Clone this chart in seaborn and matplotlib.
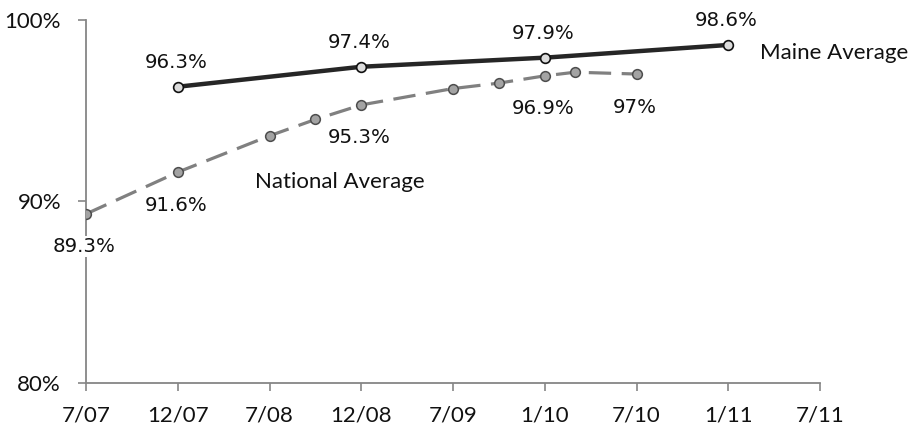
import matplotlib
matplotlib.use("Agg")
import matplotlib.pyplot as plt
import seaborn as sns
import pandas as pd

# Axis periods (evenly spaced on the horizontal axis)
tick_labels = ["7/07", "12/07", "7/08", "12/08", "7/09", "1/10", "7/10", "1/11", "7/11"]

# Maine average: period position on the axis and percent
maine_pos = [1, 3, 5, 7]
maine_vals = [96.3, 97.4, 97.9, 98.6]

# National average: period position on the axis and percent
national_pos = [0, 1, 2, 2.5, 3, 4, 4.5, 5, 5.33, 6]
national_vals = [89.3, 91.6, 93.6, 94.5, 95.3, 96.2, 96.5, 96.9, 97.1, 97.0]
national_labelled = [0, 1, 4, 7, 9]

y_ticks = [80, 90, 100]

maine_df = pd.DataFrame({"pos": maine_pos, "pct": maine_vals})
national_df = pd.DataFrame({"pos": national_pos, "pct": national_vals})

sns.set_style("white")
plt.rcParams["font.family"] = ["Lato", "DejaVu Sans"]

fig = plt.figure(figsize=(9.13, 4.32), dpi=100)
ax = fig.add_axes([86 / 913, 1 - 383 / 432, (820 - 86) / 913, (383 - 19.5) / 432])

sns.lineplot(data=national_df, x="pos", y="pct", ax=ax, color="#808080",
             linewidth=2.3, linestyle=(0, (7, 3.3)), marker="o", markersize=7,
             markerfacecolor="#a3a3a3", markeredgecolor="#4d4d4d",
             markeredgewidth=1.1, zorder=3)
sns.lineplot(data=maine_df, x="pos", y="pct", ax=ax, color="#262626",
             linewidth=3.2, marker="o", markersize=7,
             markerfacecolor="#dcdcdc", markeredgecolor="#111111",
             markeredgewidth=1.2, zorder=4)

label_font = dict(family="DejaVu Sans", fontsize=14.2, color="#111111")

for x, v in zip(maine_pos, maine_vals):
    ax.annotate(f"{v:g}%", (x, v), xytext=(-2, 24), textcoords="offset pixels",
                ha="center", va="center", zorder=6, **label_font)

for i in national_labelled:
    ax.annotate(f"{national_vals[i]:g}%", (national_pos[i], national_vals[i]),
                xytext=(-2, -33), textcoords="offset pixels",
                ha="center", va="center", zorder=6,
                bbox=dict(boxstyle="square,pad=0.05", fc="white", ec="none"),
                annotation_clip=False, **label_font)

ax.text(7.35, 98.16, "Maine Average", ha="left", va="center",
        fontsize=16, color="#111111")
ax.text(1.84, 91.06, "National Average", ha="left", va="center",
        fontsize=16, color="#111111")

ax.set_xlim(0, 8)
ax.set_ylim(80, 100)
ax.set_xticks(range(len(tick_labels)))
ax.set_xticklabels(tick_labels)
ax.set_yticks(y_ticks)
ax.set_yticklabels([f"{t}%" for t in y_ticks])
ax.set_xlabel("")
ax.set_ylabel("")

for side in ("top", "right"):
    ax.spines[side].set_visible(False)
for side in ("left", "bottom"):
    ax.spines[side].set_color("#868686")
    ax.spines[side].set_linewidth(1.3)

ax.tick_params(axis="both", direction="out", length=6, width=1.2,
               bottom=True, left=True,
               color="#868686", labelsize=16, labelcolor="#111111")
ax.tick_params(axis="y", pad=12)
ax.tick_params(axis="x", pad=10)
ax.grid(False)

fig.savefig("out.png", dpi=100)
